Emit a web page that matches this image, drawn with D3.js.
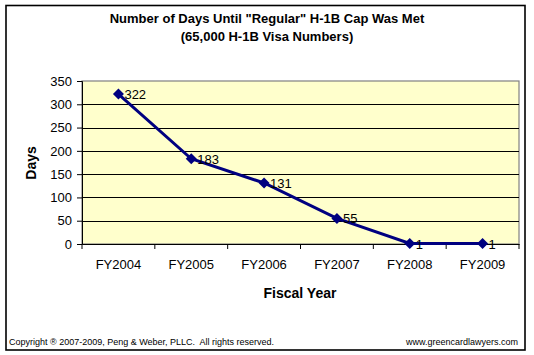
<!DOCTYPE html>
<html><head><meta charset="utf-8">
<script src="https://cdn.jsdelivr.net/npm/d3@7"></script>
<style>body{margin:0;background:#fff}svg{display:block}</style>
</head><body>
<script>
const categories = ["FY2004","FY2005","FY2006","FY2007","FY2008","FY2009"];
const days = [322,183,131,55,1,1];
const yTicks = [0,50,100,150,200,250,300,350];
const titleLines = ['Number of Days Until "Regular" H-1B Cap Was Met','(65,000 H-1B Visa Numbers)'];

const W=534,H=355;
const FONT="Arial, Liberation Sans, sans-serif";
const svg=d3.select("body").append("svg").attr("width",W).attr("height",H);
svg.append("rect").attr("x",0).attr("y",0).attr("width",W).attr("height",H).attr("fill","#fff");
svg.append("rect").attr("x",6).attr("y",5.5).attr("width",519).attr("height",344.5)
  .attr("fill","none").attr("stroke","#000").attr("stroke-width",1.6);

const L=82,R=519,T=81,B=244;
const x=d3.scaleBand().domain(categories).range([L,R]);
const y=d3.scaleLinear().domain([0,350]).range([B,T]);

svg.append("rect").attr("x",L).attr("y",T).attr("width",R-L).attr("height",B-T)
  .attr("fill","#FFFFCC").attr("stroke","#808080").attr("stroke-width",1.2);

svg.append("g").selectAll("line").data(yTicks.filter(d=>d>0&&d<350)).join("line")
  .attr("x1",L).attr("x2",R).attr("y1",d=>Math.round(y(d))+0.5).attr("y2",d=>Math.round(y(d))+0.5)
  .attr("stroke","#000").attr("stroke-width",1);

const yAxis=d3.axisLeft(y).tickValues(yTicks).tickSize(5).tickPadding(5);
const gy=svg.append("g").attr("transform",`translate(${L},0)`).call(yAxis);
gy.selectAll("text").attr("font-family",FONT).attr("font-size",13).attr("fill","#000");
gy.selectAll("line,path").attr("stroke","#000");

const xAxis=d3.axisBottom(x).tickSize(0).tickPadding(16);
const gx=svg.append("g").attr("transform",`translate(0,${B})`).call(xAxis);
gx.select(".domain").attr("stroke","#000");
gx.selectAll("text").attr("font-family",FONT).attr("font-size",13).attr("fill","#000");
const bounds=categories.map(c=>x(c)).concat([R]);
svg.append("g").selectAll("line").data(bounds).join("line")
  .attr("x1",d=>d).attr("x2",d=>d).attr("y1",B).attr("y2",B+5).attr("stroke","#000");

const cx=d=>x(d)+x.bandwidth()/2;
const pts=categories.map((c,i)=>[cx(c),y(days[i])]);
svg.append("path").attr("d",d3.line()(pts)).attr("fill","none").attr("stroke","#000080").attr("stroke-width",3);
const r=5.5;
svg.append("g").selectAll("path").data(pts).join("path")
  .attr("d",`M0,${-r}L${r},0L0,${r}L${-r},0Z`)
  .attr("transform",d=>`translate(${d[0]},${d[1]})`).attr("fill","#000080");
svg.append("g").selectAll("text").data(pts).join("text")
  .attr("x",d=>d[0]+6).attr("y",d=>d[1]+5)
  .attr("font-family",FONT).attr("font-size",13).attr("fill","#000")
  .text((d,i)=>days[i]);

svg.append("g").selectAll("text").data(titleLines).join("text")
  .attr("x",267).attr("y",(d,i)=>23+i*18).attr("text-anchor","middle")
  .attr("font-family",FONT).attr("font-size",13).attr("font-weight","bold")
  .text(d=>d);
svg.append("text").attr("x",300).attr("y",298).attr("text-anchor","middle")
  .attr("font-family",FONT).attr("font-size",14).attr("font-weight","bold").text("Fiscal Year");
svg.append("text").attr("transform","translate(36,163) rotate(-90)").attr("text-anchor","middle")
  .attr("font-family",FONT).attr("font-size",14).attr("font-weight","bold").text("Days");

svg.append("text").attr("x",9).attr("y",345).style("white-space","pre")
  .attr("font-family",FONT).attr("font-size",9).text("Copyright \u00AE 2007-2009, Peng & Weber, PLLC.  All rights reserved.");
svg.append("text").attr("x",518).attr("y",345).attr("text-anchor","end")
  .attr("font-family",FONT).attr("font-size",9).text("www.greencardlawyers.com");
</script>
</body></html>
